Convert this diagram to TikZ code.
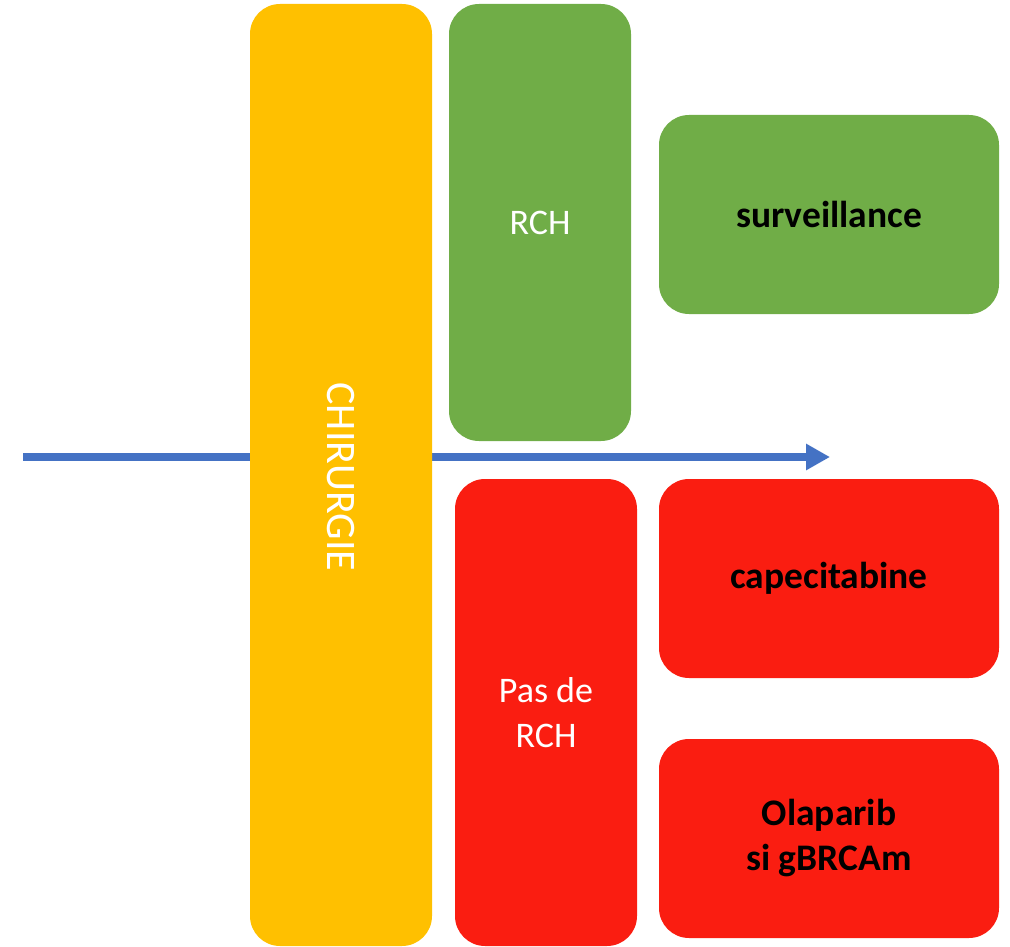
\documentclass[tikz,border=0pt]{standalone}
\usepackage{fontspec}
\setmainfont{Carlito}
\usetikzlibrary{arrows.meta}
\definecolor{cyellow}{HTML}{FFC000}
\definecolor{cgreen}{HTML}{70AD47}
\definecolor{cred}{HTML}{FA1D11}
\definecolor{cblue}{HTML}{4472C4}
\tikzset{
  box/.style={draw=none, rounded corners=30pt, inner sep=0pt, align=center},
  lighttext/.style={text=white, font=\fontsize{36}{45}\selectfont},
  bigtext/.style={text=white, font=\fontsize{42}{50}\selectfont},
  boldtext/.style={text=black, font=\fontsize{37.5}{45}\selectfont\bfseries},
  timeline/.style={draw=cblue, line width=8pt, -{Triangle[length=24pt,width=25pt]}}
}
\begin{document}
\begin{tikzpicture}[x=1pt,y=-1pt]
\useasboundingbox (0,0) rectangle (1010,947);
% timeline arrow (behind the boxes)
\coordinate (tstart) at (23,457);
\coordinate (tend) at (830,457);
\draw[timeline] (tstart) -- (tend);
% boxes
\node[box, fill=cyellow, minimum width=182pt, minimum height=942pt] (chir) at (341,475) {};
\node[bigtext, rotate=-90] (chirlab) at (341,477) {CHIRURGIE};
\node[box, fill=cgreen, lighttext, minimum width=182pt, minimum height=437pt] (rch) at (540,222.5) {RCH};
\node[box, fill=cgreen, boldtext, minimum width=340pt, minimum height=199pt] (surv) at (829,214.5) {surveillance};
\node[box, fill=cred, lighttext, minimum width=182pt, minimum height=467pt] (prch) at (546,712.5) {Pas de\\RCH};
\node[box, fill=cred, boldtext, minimum width=340pt, minimum height=199pt] (cape) at (829,578.5) {capecitabine};
\node[box, fill=cred, boldtext, minimum width=340pt, minimum height=199pt] (olap) at (829,838.5) {Olaparib\\si gBRCAm};
\end{tikzpicture}
\end{document}
